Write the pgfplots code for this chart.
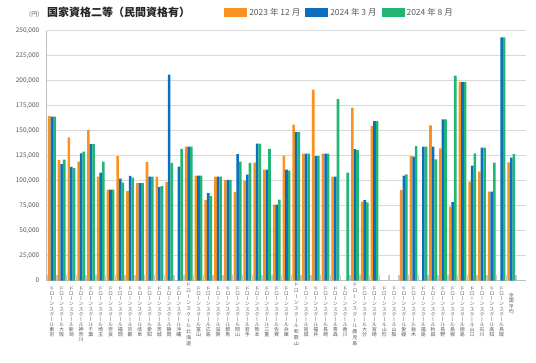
\documentclass[border=0pt]{standalone}
\usepackage{pgfplots}
\usepackage{pgfplotstable}
\pgfplotsset{compat=1.18}
\usepackage{fontspec}
\setmainfont{Noto Sans CJK JP}
\newfontfamily\vfont[RawFeature=+vert]{Noto Sans CJK JP}
\definecolor{c1}{HTML}{F7931E}
\definecolor{c2}{HTML}{0A6FBF}
\definecolor{c3}{HTML}{22B573}
\definecolor{txt}{HTML}{595959}
\definecolor{gridc}{HTML}{D9D9D9}

\def\vtx#1{\ifx\relax#1\else\hbox to 6bp{\hss#1\hss}\expandafter\vtx\fi}
\protected\def\vl#1{\vbox{\vfont\fontsize{5bp}{5.1bp}\selectfont\lineskiplimit=-10bp\lineskip=0bp\vtx#1\relax}}
\protected\def\vlo#1#2#3{\vbox{\vfont\fontsize{5bp}{#2}\selectfont\lineskiplimit=-10bp\lineskip=0bp\vskip#1\relax\vtx#3\relax}}

\pgfplotstableread{
i o b g
0 164500 163800 163800
1 120500 116500 121000
2 143200 113700 112300
3 119000 127200 128800
4 150500 136500 136500
5 104000 108000 119000
6 91000 91000 91000
7 124500 102000 98000
8 89500 104700 103000
9 97500 97500 97500
10 118500 104000 104000
11 104000 93500 94500
12 98500 206000 117700
13 nan 114000 131700
14 134000 134000 134000
15 105000 105000 105000
16 80500 87400 84400
17 104000 104000 104000
18 100700 100700 100700
19 88400 126500 119000
20 100000 106000 117700
21 118000 137000 137000
22 111000 111000 131700
23 76000 76000 81000
24 125000 111000 110000
25 156000 148500 148500
26 127000 127000 127000
27 191000 124500 124500
28 127000 127000 127000
29 104000 104000 181500
30 nan nan 107800
31 172800 131500 130500
32 78800 80500 78200
33 154500 159500 159500
34 nan nan nan
35 nan nan nan
36 90500 104800 106200
37 124500 123800 134500
38 nan 133800 133800
39 155200 133800 121200
40 132200 161200 161200
41 73800 78500 204800
42 198500 198500 198500
43 98800 114800 127200
44 108800 132800 132800
45 88800 88800 117800
46 nan 243200 243200
47 118200 122800 126500
}\data

\begin{document}
\begin{tikzpicture}
\path[use as bounding box] (0,0) rectangle (536bp,-363bp);
\begin{axis}[
  at={(46bp,-280.5bp)}, anchor=south west,
  scale only axis, width=480bp, height=250bp,
  xmin=-0.6, xmax=48.5, ymin=0, ymax=250000,
  ybar=0pt, bar width=2.6bp,
  axis lines*=left,
  axis line style={draw=gray!50, line width=0.8bp},
  major tick length=0pt,
  tick align=inside,
  minor xtick={-0.5,0.5,...,47.5},
  minor tick length=6bp,
  minor tick style={draw=gray!45, line width=1.5bp},
  ytick={0,25000,...,250000},
  ymajorgrids, grid style={gridc, line width=1.2bp},
  scaled y ticks=false,
  /pgf/number format/fixed,
  /pgf/number format/precision=0,
  /pgf/number format/1000 sep={,},
  /pgf/number format/assume math mode=true,
  yticklabel style={font=\fontsize{6.5bp}{7bp}\selectfont, text=txt, inner sep=0pt, xshift=-6.5bp},
  xtick={0,...,47},
  xticklabel style={anchor=north, inner sep=0pt, yshift=-6.2bp, text=txt},
  xticklabels={
    \vl{ドローンスクール東京},\vl{ドローンスクール大阪},\vl{ドローンスクール新潟},\vl{ドローンスクール神奈川},
    \vl{ドローンスクール千葉},\vl{ドローンスクール埼玉},\vl{ドローンスクール奈良},\vl{ドローンスクール福岡},
    \vl{ドローンスクール京都},\vl{ドローンスクール岐阜},\vl{ドローンスクール愛知},\vl{ドローンスクール茨城},
    \vl{ドローンスクール静岡},\vl{ドローンスクール沖縄},\vlo{-4bp}{5.9bp}{ドローンスクール北海道},\vl{ドローンスクール富山},
    \vl{ドローンスクール広島},\vl{ドローンスクール滋賀},\vl{ドローンスクール群馬},\vl{ドローンスクール岡山},
    \vl{ドローンスクール岩手},\vl{ドローンスクール熊本},\vl{ドローンスクール三重},\vl{ドローンスクール佐賀},
    \vl{ドローンスクール兵庫},\vlo{-4bp}{5.9bp}{ドローンスクール和歌山},\vl{ドローンスクール宮城},\vl{ドローンスクール福井},
    \vl{ドローンスクール長崎},\vl{ドローンスクール青森},\vl{ドローンスクール香川},\vlo{-4bp}{5.9bp}{ドローンスクール鹿児島},
    \vl{ドローンスクール大分},\vl{ドローンスクール宮崎},\vl{ドローンスクール山形},\vl{ドローンスクール山梨},
    \vl{ドローンスクール愛媛},\vl{ドローンスクール栃木},\vl{ドローンスクール福島},\vl{ドローンスクール秋田},
    \vl{ドローンスクール長野},\vl{ドローンスクール島根},\vl{ドローンスクール徳島},\vl{ドローンスクール山口},
    \vl{ドローンスクール石川},\vl{ドローンスクール高知},\vl{ドローンスクール鳥取},\vlo{6bp}{5.5bp}{全国平均}
  },
  legend style={at={(0.371,1.071)}, anchor=west, draw=none, fill=none, inner sep=0pt,
    font=\fontsize{8.5bp}{9bp}\selectfont, text=txt,
    /tikz/every even column/.append style={column sep=3bp}},
  legend columns=3,
  legend image code/.code={\fill[#1] (0bp,-4.5bp) rectangle (23bp,4.5bp);},
]
\addplot[fill=c1, draw=none] table[x=i, y=o]{\data};
\addplot[fill=c2, draw=none] table[x=i, y=b]{\data};
\addplot[fill=c3, draw=none] table[x=i, y=g]{\data};
\legend{2023 年 12 月, 2024 年 3 月, 2024 年 8 月}
\end{axis}
\node[anchor=west, inner sep=0pt, font=\bfseries\fontsize{11bp}{12bp}\selectfont, text=black!85] at (47bp,-12.7bp) {国家資格二等（民間資格有）};
\node[anchor=east, inner sep=0pt, font=\fontsize{6bp}{7bp}\selectfont, text=txt] at (39.5bp,-15bp) {(円)};
\end{tikzpicture}
\end{document}
